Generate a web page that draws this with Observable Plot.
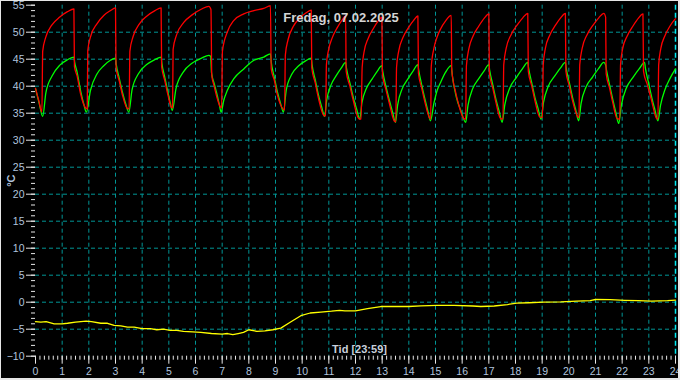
<!DOCTYPE html>
<html>
<head>
<meta charset="utf-8">
<script src="https://cdn.jsdelivr.net/npm/d3@7"></script>
<script src="https://cdn.jsdelivr.net/npm/@observablehq/plot@0.6"></script>
<style>
  html, body { margin: 0; padding: 0; background: #000; }
  #wrap { position: relative; width: 680px; height: 380px; overflow: hidden; }
  #frame { position: absolute; left: 0; top: 0; width: 680px; height: 380px; box-sizing: border-box;
           border-top: 1px solid #e6e6e6; border-left: 1px solid #e6e6e6;
           border-right: 2px solid #e6e6e6; border-bottom: 2px solid #e6e6e6; pointer-events: none; }
</style>
</head>
<body>
<div id="wrap"><div id="frame"></div></div>
<script>
const title = "Fredag, 07.02.2025";
const xTitle = "Tid [23:59]";
const yTitle = "°C";
const xTicks = [0,1,2,3,4,5,6,7,8,9,10,11,12,13,14,15,16,17,18,19,20,21,22,23,24];
const xGrid = [1,2,3,4,5,6,7,8,9,10,11,12,13,14,15,16,17,18,19,20,21,22,23];
const yTicks = [-10,-5,0,5,10,15,20,25,30,35,40,45,50,55];
const yGrid = [-5,0,5,10,15,20,25,30,35,40,45,50];

// Supply temperature (red): [hour, °C]
const supplyTemp = [
[0,39.6],[0.12,37.4],[0.24,35.2],
[0.27,46.5],[0.38,49.0],[0.61,51.3],[0.91,52.8],[1.20,53.8],[1.44,54.3],
[1.46,43.6],[1.56,41.9],[1.69,38.6],[1.89,35.9],
[1.94,35.8],[1.96,46.6],[2.06,49.1],[2.31,51.6],[2.56,53.1],[2.81,54.0],[3.00,54.5],
[3.02,43.5],[3.14,41.0],[3.27,38.2],[3.44,35.9],
[3.51,35.8],[3.54,46.5],[3.66,49.2],[3.89,51.5],[4.18,53.0],[4.48,54.0],[4.71,54.5],
[4.73,43.6],[4.85,41.0],[4.97,38.3],[5.09,36.1],
[5.14,36.0],[5.16,46.8],[5.29,49.5],[5.56,51.8],[5.90,53.3],[6.23,54.3],[6.50,54.8],[6.58,54.2],
[6.61,42.0],[6.70,40.0],[6.80,38.0],[6.94,36.1],
[6.98,36.0],[7.01,46.5],[7.19,50.0],[7.44,52.2],[7.81,53.4],[8.19,54.0],[8.56,54.4],[8.81,54.9],
[8.84,43.2],[8.95,41.2],[9.07,38.4],[9.28,35.8],
[9.34,35.6],[9.37,45.8],[9.47,48.6],[9.66,51.0],[9.90,52.6],[10.15,53.6],[10.34,54.1],
[10.36,43.4],[10.49,40.6],[10.61,37.8],[10.81,34.6],
[10.88,34.5],[10.91,44.0],[10.98,46.5],[11.13,49.0],[11.31,50.8],[11.49,52.2],[11.63,53.0],
[11.65,42.8],[11.79,40.0],[11.92,37.3],[12.12,34.0],
[12.21,33.9],[12.25,43.5],[12.32,46.3],[12.47,48.8],[12.66,50.6],[12.84,52.0],[12.99,52.8],
[13.01,42.2],[13.14,39.4],[13.27,36.8],[13.46,33.5],
[13.51,33.4],[13.54,43.5],[13.62,46.5],[13.78,49.0],[13.98,50.8],[14.18,52.2],[14.34,53.0],
[14.36,42.4],[14.48,39.7],[14.60,37.1],[14.79,34.0],
[14.82,33.9],[14.84,43.5],[14.94,47.0],[15.06,49.1],[15.19,50.6],[15.38,52.1],[15.59,53.1],
[15.61,43.0],[15.75,39.0],[15.87,36.6],[16.06,34.0],
[16.13,33.9],[16.16,43.8],[16.25,46.9],[16.41,49.3],[16.62,51.1],[16.83,52.6],[17.00,53.4],
[17.02,42.4],[17.15,39.6],[17.27,36.9],[17.44,34.0],
[17.53,33.9],[17.56,44.0],[17.65,47.0],[17.83,49.5],[18.06,51.3],[18.28,52.7],[18.46,53.5],
[18.48,42.8],[18.61,40.0],[18.73,37.3],[18.91,34.3],
[19.01,34.2],[19.04,44.0],[19.12,47.0],[19.29,49.5],[19.50,51.3],[19.70,52.7],[19.87,53.5],
[19.89,42.8],[20.02,40.0],[20.14,37.3],[20.34,34.3],
[20.38,34.2],[20.41,44.0],[20.50,47.0],[20.68,49.5],[20.91,51.3],[21.13,52.7],[21.31,53.5],[21.38,52.8],
[21.40,42.3],[21.53,39.6],[21.65,36.9],[21.81,34.0],
[21.91,33.9],[21.94,44.0],[22.02,47.0],[22.19,49.3],[22.40,51.1],[22.61,52.6],[22.78,53.4],
[22.80,42.8],[22.95,40.2],[23.10,37.4],[23.29,34.0],
[23.34,33.9],[23.37,44.0],[23.45,47.0],[23.60,49.3],[23.80,51.2],[24.00,52.5]
];

// Return temperature (green): [hour, °C]
const returnTemp = [
[0,39.6],[0.14,36.8],[0.27,34.4],
[0.39,38.8],[0.62,41.9],[0.91,43.9],[1.20,44.9],[1.44,45.4],
[1.47,44.4],[1.56,42.6],[1.69,39.2],[1.81,36.7],[1.91,35.2],
[2.06,39.2],[2.31,42.3],[2.56,43.8],[2.81,44.8],[3.00,45.2],
[3.03,44.0],[3.14,41.5],[3.27,38.7],[3.39,36.6],[3.50,35.2],
[3.62,39.3],[3.86,42.3],[4.17,44.0],[4.47,44.9],[4.71,45.4],
[4.74,44.2],[4.85,41.6],[4.97,38.8],[5.06,36.8],[5.13,35.5],
[5.27,39.6],[5.54,42.6],[5.88,44.3],[6.23,45.2],[6.50,45.7],[6.57,45.5],
[6.60,42.5],[6.70,40.5],[6.80,38.6],[6.89,36.7],[6.96,35.2],
[7.06,37.4],[7.19,39.2],[7.44,41.4],[7.81,43.2],[8.19,44.8],[8.56,45.4],[8.81,46.0],
[8.84,44.5],[8.95,41.8],[9.07,39.0],[9.19,36.8],[9.30,35.2],
[9.40,39.2],[9.61,42.2],[9.87,43.8],[10.13,44.7],[10.34,45.2],
[10.37,44.0],[10.49,41.2],[10.61,38.4],[10.73,36.2],[10.84,34.4],
[10.92,37.4],[11.08,40.2],[11.27,41.9],[11.47,43.4],[11.63,44.4],
[11.66,43.4],[11.79,40.6],[11.92,37.9],[12.04,35.8],[12.16,33.9],
[12.24,36.9],[12.41,39.6],[12.62,41.3],[12.82,42.8],[12.99,43.8],
[13.02,42.8],[13.14,40.0],[13.27,37.4],[13.39,35.2],[13.50,33.3],
[13.58,36.5],[13.75,39.5],[13.96,41.3],[14.17,42.9],[14.34,44.0],
[14.37,43.0],[14.48,40.3],[14.60,37.7],[14.71,35.5],[14.81,33.6],
[14.94,36.8],[15.06,39.2],[15.19,40.7],[15.38,42.6],[15.59,43.8],
[15.63,42.0],[15.78,38.0],[15.97,35.2],[16.13,33.3],
[16.22,36.5],[16.39,39.5],[16.61,41.3],[16.83,42.9],[17.00,44.0],
[17.03,43.0],[17.15,40.2],[17.27,37.5],[17.39,35.3],[17.50,33.3],
[17.60,36.6],[17.79,39.7],[18.03,41.6],[18.27,43.3],[18.46,44.4],
[18.49,43.4],[18.61,40.6],[18.73,37.9],[18.85,35.8],[18.96,33.9],
[19.05,37.0],[19.23,40.0],[19.46,41.8],[19.69,43.4],[19.87,44.4],
[19.90,43.4],[20.02,40.6],[20.14,37.9],[20.26,35.6],[20.37,33.6],
[20.46,36.8],[20.65,39.9],[20.89,41.7],[21.12,43.3],[21.31,44.4],[21.38,43.9],
[21.42,42.8],[21.53,40.2],[21.65,37.5],[21.76,35.2],[21.87,33.1],
[21.97,36.5],[22.16,39.7],[22.40,41.6],[22.65,43.3],[22.84,44.4],
[22.87,43.4],[22.99,40.6],[23.11,37.9],[23.23,35.6],[23.34,33.6],
[23.44,36.5],[23.60,39.3],[23.80,41.5],[24.00,43.2]
];

// Outdoor temperature (yellow): [hour, °C]
const outdoorTemp = [
[0,-3.6],[0.2,-3.7],[0.4,-3.6],[0.7,-4.0],[1.0,-4.0],[1.2,-3.9],[1.5,-3.7],[1.9,-3.5],[2.1,-3.6],
[2.45,-3.9],[2.7,-3.9],[2.95,-4.3],[3.2,-4.4],[3.45,-4.6],[3.7,-4.6],[4.0,-4.9],[4.3,-4.9],
[4.55,-5.1],[4.8,-5.0],[5.05,-5.2],[5.3,-5.2],[5.55,-5.4],[5.9,-5.5],[6.2,-5.6],[6.6,-5.8],
[7.0,-5.9],[7.2,-5.8],[7.4,-6.0],[7.6,-5.8],[7.8,-5.6],[8.0,-5.1],[8.3,-5.4],[8.6,-5.3],
[8.9,-5.1],[9.2,-4.8],[9.55,-3.7],[9.95,-2.5],[10.3,-2.0],[10.7,-1.85],[11.1,-1.67],[11.4,-1.5],
[11.6,-1.6],[12.0,-1.6],[12.45,-1.2],[12.95,-0.8],[13.5,-0.8],[14.0,-0.8],[14.45,-0.67],
[15.05,-0.6],[15.7,-0.6],[16.4,-0.7],[16.7,-0.8],[17.2,-0.7],[17.7,-0.43],[18.05,-0.18],
[18.5,-0.1],[19.05,0.0],[19.7,0.05],[20.3,0.19],[20.8,0.3],[21.0,0.5],[21.55,0.46],
[22.1,0.35],[22.6,0.3],[23.1,0.19],[23.7,0.3],[24,0.4]
];

const yMinor = d3.range(-10, 55.001, 1);
const xMinor = d3.range(0, 24.001, 1/6);

const labelColor = "#b0c4de";
const tickColor = "#e8e8e8";
const gridColor = "#009696";

const chart = Plot.plot({
  width: 680,
  height: 380,
  marginLeft: 35,
  marginRight: 5,
  marginTop: 4.7,
  marginBottom: 24.3,
  style: {background: "#000", fontFamily: "'Liberation Sans', Arial, sans-serif", fontSize: "10px", overflow: "visible"},
  x: {domain: [0, 24]},
  y: {domain: [-10, 55]},
  marks: [
    Plot.gridX(xGrid, {stroke: gridColor, strokeOpacity: 1, strokeDasharray: "4,3"}),
    Plot.gridY(yGrid, {stroke: gridColor, strokeOpacity: 1, strokeDasharray: "4,3"}),
    Plot.ruleX([24], {stroke: "#00e8f0", strokeDasharray: "5,3", strokeWidth: 1.5}),
    Plot.line(outdoorTemp, {x: d => d[0], y: d => d[1], stroke: "#ffff00", strokeWidth: 1.3}),
    Plot.line(returnTemp, {x: d => d[0], y: d => d[1], stroke: "#00ff00", strokeWidth: 1.3, curve: "monotone-x"}),
    Plot.line(supplyTemp, {x: d => d[0], y: d => d[1], stroke: "#ff0000", strokeWidth: 1.3, curve: "monotone-x"}),
    Plot.axisY(yTicks, {tickSize: 9, tickPadding: 2, stroke: tickColor, fill: labelColor, label: null, fontSize: 10.5}),
    Plot.axisY(yMinor, {tickSize: 4, text: null, stroke: tickColor, label: null}),
    Plot.axisX(xTicks, {tickSize: 8, tickPadding: 3, stroke: tickColor, fill: labelColor, label: null, fontSize: 10.5}),
    Plot.axisX(xMinor, {tickSize: 4, text: null, stroke: tickColor, label: null}),
    Plot.text([title], {frameAnchor: "top", dx: -14.5, dy: 12.6, lineAnchor: "middle", fill: "#d4d4d4", fontSize: 13, fontWeight: "bold"}),
    Plot.text([xTitle], {frameAnchor: "bottom", dx: 4, dy: -7, lineAnchor: "middle", fill: "#c8d0dc", fontSize: 11, fontWeight: "bold"}),
    Plot.text([yTitle], {frameAnchor: "left", dx: -24, rotate: -90, textAnchor: "middle", lineAnchor: "middle", fill: labelColor, fontSize: 11, fontWeight: "bold"})
  ]
});
document.getElementById("wrap").insertBefore(chart, document.getElementById("frame"));
</script>
</body>
</html>
